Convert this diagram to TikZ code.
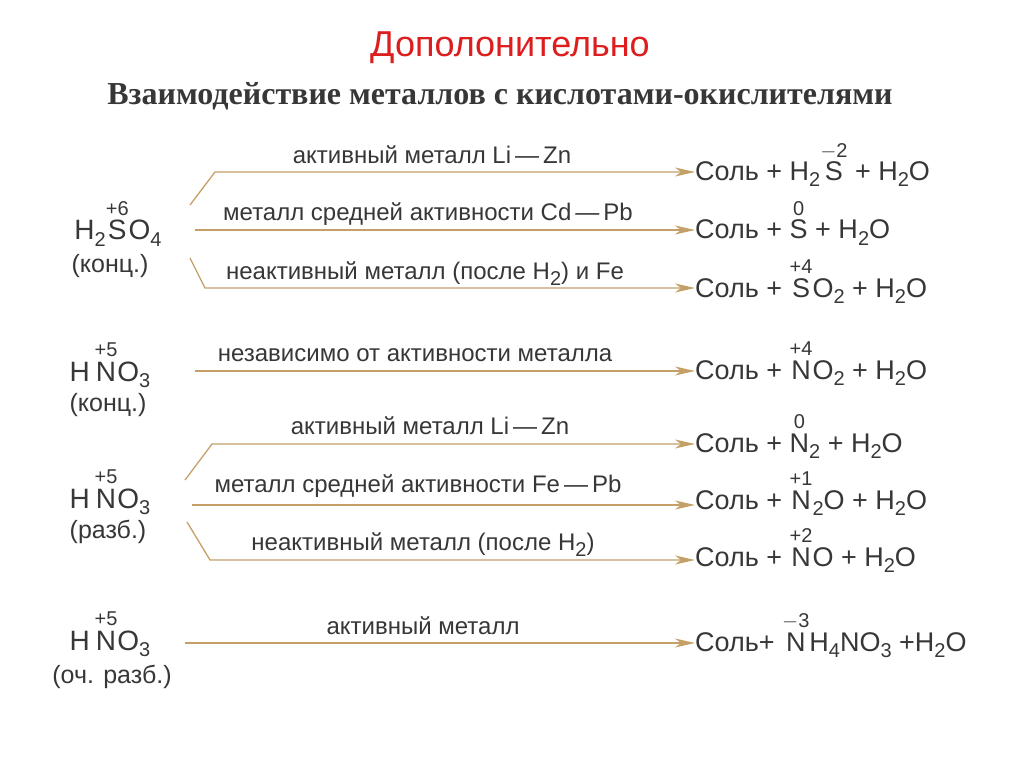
\documentclass[tikz,border=0pt]{standalone}
\usepackage{amsmath}
\usepackage{fontspec}
\setmainfont{Liberation Sans}
\newfontfamily\titleserif{Liberation Serif}
\usetikzlibrary{arrows.meta}
\definecolor{arrowgold}{RGB}{196,160,104}
\definecolor{inkgrey}{RGB}{55,55,55}
\definecolor{titlered}{RGB}{220,30,30}
\newcommand{\ox}[2]{$\overset{\text{\fontsize{20}{20}\selectfont #1}}{\text{#2}}$}
\newcommand{\sbs}[1]{\raisebox{-6pt}{\fontsize{20}{20}\selectfont #1}}
\tikzset{
  formula/.style={text=inkgrey, font=\fontsize{27}{29}\selectfont, inner sep=0pt, anchor=base west},
  acid/.style={text=inkgrey, font=\fontsize{28}{30}\selectfont, inner sep=0pt, anchor=base},
  cond/.style={text=inkgrey, font=\fontsize{25}{27}\selectfont, inner sep=0pt, anchor=base},
  label/.style={text=inkgrey, font=\fontsize{24}{26}\selectfont, inner sep=0pt, anchor=base},
  react/.style={draw=arrowgold, line width=1.3pt, -{Stealth[length=20pt,width=9pt,inset=6pt]}}
}
\begin{document}
\begin{tikzpicture}[x=1pt,y=-1pt]
    \useasboundingbox (0,0) rectangle (1024,767);
    % titles
    \node (title) [text=titlered, font=\fontsize{36}{38}\selectfont, inner sep=0pt] at (510,48) {Дополонительно};
    \node (sub) [text=inkgrey, font=\titleserif\bfseries\fontsize{32}{34}\selectfont, inner sep=0pt] at (500,96) {Взаимодействие металлов с кислотами-окислителями};
    
    % acids
    \node (hso) [acid] at (118,240) {H\sbs{2}\ox{+6}{S}O\sbs{4}};
    \node (hsoc) [cond] at (110,272) {(конц.)};
    \node (hno) [acid] at (110,381) {H\,\ox{+5}{N}O\sbs{3}};
    \node (hnoc) [cond] at (108,411) {(конц.)};
    \node (hnd) [acid] at (110,508) {H\,\ox{+5}{N}O\sbs{3}};
    \node (hndc) [cond] at (108,538) {(разб.)};
    \node (hnv) [acid] at (110,650) {H\,\ox{+5}{N}O\sbs{3}};
    \node (hnvc) [cond] at (112,683) {(оч. разб.)};
    
    % products
    \node (p1) [formula] at (695,181) {Соль + H\sbs{2}\ox{$-$2}{S} + H\sbs{2}O};
    \node (p2) [formula] at (695,239) {Соль + \ox{0}{S} + H\sbs{2}O};
    \node (p3) [formula] at (695,297) {Соль + \ox{+4}{S}O\sbs{2} + H\sbs{2}O};
    \node (p4) [formula] at (695,379) {Соль + \ox{+4}{N}O\sbs{2} + H\sbs{2}O};
    \node (p5) [formula] at (695,452) {Соль + \ox{0}{N}\sbs{2} + H\sbs{2}O};
    \node (p6) [formula] at (695,509) {Соль + \ox{+1}{N}\sbs{2}O + H\sbs{2}O};
    \node (p7) [formula] at (695,566) {Соль + \ox{+2}{N}O + H\sbs{2}O};
    \node (p8) [formula] at (695,651) {Соль+ \ox{$-$3}{N}H\sbs{4}NO\sbs{3} +H\sbs{2}O};
    
    % arrow points
    \coordinate (s1) at (190,205);
    \coordinate (k1) at (215,172);
    \coordinate (s2) at (195,230);
    \coordinate (s3) at (190,258);
    \coordinate (k3) at (205,288);
    \coordinate (s4) at (195,371);
    \coordinate (s5) at (185,480);
    \coordinate (k5) at (212,444);
    \coordinate (s6) at (192,505);
    \coordinate (s7) at (187,522);
    \coordinate (k7) at (210,560);
    \coordinate (s8) at (185,643);
    
    \draw [react] (s1) -- (k1) -- (p1.west |- k1);
    \draw [react] (s2) -- (p2.west |- s2);
    \draw [react] (s3) -- (k3) -- (p3.west |- k3);
    \draw [react] (s4) -- (p4.west |- s4);
    \draw [react] (s5) -- (k5) -- (p5.west |- k5);
    \draw [react] (s6) -- (p6.west |- s6);
    \draw [react] (s7) -- (k7) -- (p7.west |- k7);
    \draw [react] (s8) -- (p8.west |- s8);
    
    % conditions
    \node (l1) [label] at (432,164) {активный металл Li\,—\,Zn};
    \node (l2) [label] at (428,221) {металл средней активности Cd\,—\,Pb};
    \node (l3) [label] at (425,279) {неактивный металл (после H\sbs{2}) и Fe};
    \node (l4) [label] at (415,361) {независимо от активности металла};
    \node (l5) [label] at (430,434) {активный металл Li\,—\,Zn};
    \node (l6) [label] at (418,492) {металл средней активности Fe\,—\,Pb};
    \node (l7) [label] at (423,550) {неактивный металл (после H\sbs{2})};
    \node (l8) [label] at (423,634) {активный металл};
\end{tikzpicture}
\end{document}
